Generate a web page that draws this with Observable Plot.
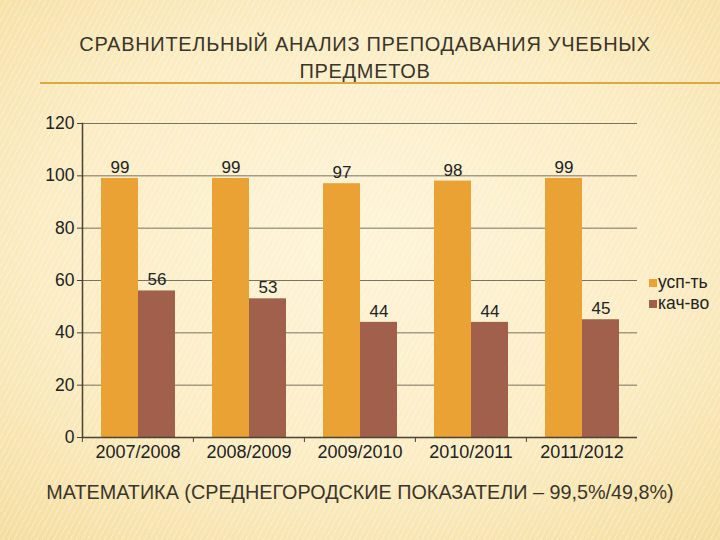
<!DOCTYPE html>
<html>
<head>
<meta charset="utf-8">
<script src="https://cdn.jsdelivr.net/npm/d3@7"></script>
<script src="https://cdn.jsdelivr.net/npm/@observablehq/plot@0.6"></script>
<style>
  body { margin: 0; }
  #root {
    position: relative; width: 720px; height: 540px; overflow: hidden;
    background: radial-gradient(ellipse 80% 75% at 50% 45%, #fdf4d8 0%, #fbecc3 55%, #f4dc9c 100%);
    font-family: "Liberation Sans", Arial, sans-serif;
  }
  #stripes {
    position: absolute; inset: 0;
    background: repeating-linear-gradient(118deg, rgba(255,255,255,0.32) 0 1px, rgba(0,0,0,0) 1px 5px);
    pointer-events: none;
  }
  #title {
    position: absolute; left: 0; width: 730px; top: 31px; text-align: center;
    font-size: 20px; line-height: 27px; color: #3a3529; letter-spacing: 0.7px;
  }
  #rule { position: absolute; left: 40px; right: 0; top: 82px; height: 2px; background: #dba846; }
  #chart { position: absolute; left: 0; top: 100px; }
  #subtitle {
    position: absolute; left: 0; width: 720px; top: 481px; text-align: center;
    font-size: 19.8px; color: #3a3529;
  }
  #legend { position: absolute; left: 649px; top: 272px; font-size: 17.5px; color: #222; }
  #legend .item { height: 21px; line-height: 21px; white-space: nowrap; }
  #legend .sw { display: inline-block; width: 8px; height: 8px; margin-right: 1px; vertical-align: 1px; }
</style>
</head>
<body>
<div id="root">
  <div id="stripes"></div>
  <div id="title"></div>
  <div id="rule"></div>
  <div id="chart"></div>
  <div id="legend"></div>
  <div id="subtitle"></div>
</div>
<script>
const titleLines = ["СРАВНИТЕЛЬНЫЙ АНАЛИЗ ПРЕПОДАВАНИЯ УЧЕБНЫХ", "ПРЕДМЕТОВ"];
const subtitleText = "МАТЕМАТИКА (СРЕДНЕГОРОДСКИЕ ПОКАЗАТЕЛИ – 99,5%/49,8%)";
const years = ["2007/2008", "2008/2009", "2009/2010", "2010/2011", "2011/2012"];
const series = ["усп-ть", "кач-во"];
const uspValues = [99, 99, 97, 98, 99];
const kachValues = [56, 53, 44, 44, 45];
const yTicks = [0, 20, 40, 60, 80, 100, 120];
const colors = ["#eba234", "#a0604b"];

const data = years.flatMap((yr, i) => [
  {year: yr, series: series[0], value: uspValues[i]},
  {year: yr, series: series[1], value: kachValues[i]}
]);

document.getElementById("title").innerHTML = titleLines.join("<br>");
document.getElementById("subtitle").textContent = subtitleText;

const W = 720, mL = 81, mR = 83;
const step = (W - mL - mR) / years.length;

const chart = Plot.plot({
  width: W, height: 365,
  marginLeft: mL, marginRight: mR, marginTop: 23, marginBottom: 28,
  style: {background: "transparent", fontFamily: "Liberation Sans, Arial, sans-serif", fontSize: "16px", color: "#222"},
  fx: {domain: years, padding: 0, axis: null},
  x: {domain: series, paddingInner: 0, paddingOuter: 0.5, axis: null},
  y: {domain: [0, 120], axis: null},
  color: {domain: series, range: colors},
  marks: [
    Plot.gridY(yTicks, {stroke: "#5a5344", strokeOpacity: 0.8}),
    Plot.barY(data, {fx: "year", x: "series", y: "value", fill: "series"}),
    Plot.text(data, {fx: "year", x: "series", y: "value", text: "value", dy: -11, fontSize: 17, fill: "#222"}),
    Plot.ruleY([0], {stroke: "#4a4233", strokeWidth: 1.5}),
    Plot.frame({anchor: "left", facetAnchor: "left", stroke: "#4a4233", strokeWidth: 1.5}),
    Plot.axisY(yTicks, {anchor: "left", tickSize: 5, tickPadding: 3, fontSize: 17.5, label: null, stroke: "#4a4233"}),
    Plot.axisFx({anchor: "bottom", tickSize: 0, tickPadding: 8, fontSize: 18, label: null}),
    Plot.axisFx({anchor: "bottom", tickSize: 5, tickFormat: () => "", label: null, dx: -step / 2, stroke: "#4a4233"})
  ]
});
document.getElementById("chart").appendChild(chart);

const legend = document.getElementById("legend");
series.forEach((s, i) => {
  const item = document.createElement("div");
  item.className = "item";
  const sw = document.createElement("span");
  sw.className = "sw";
  sw.style.background = colors[i];
  item.appendChild(sw);
  item.appendChild(document.createTextNode(s));
  legend.appendChild(item);
});
</script>
</body>
</html>
